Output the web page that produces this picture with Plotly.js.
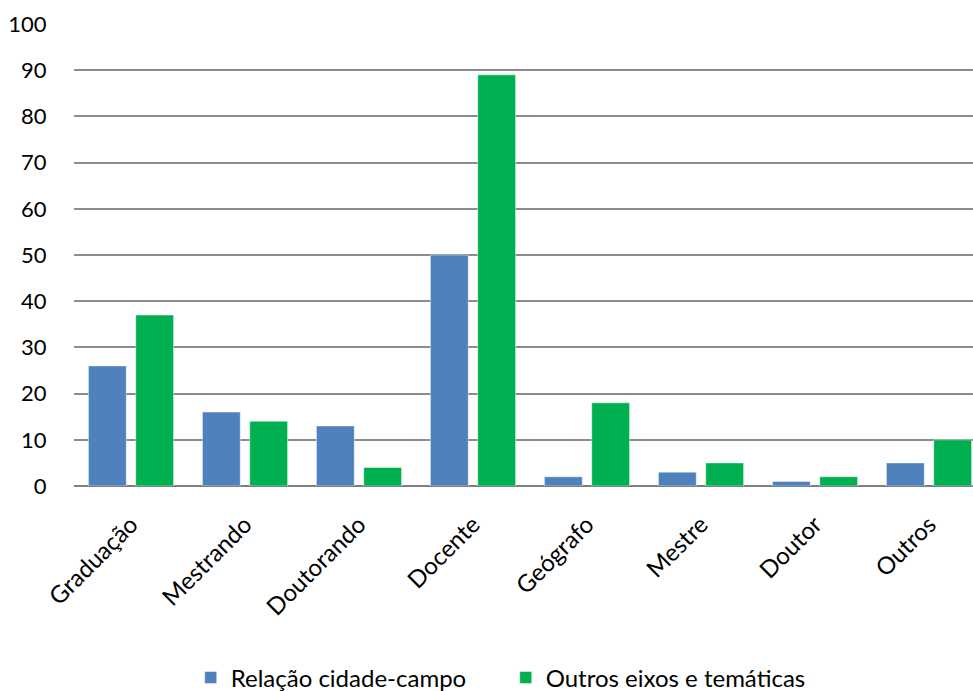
<!DOCTYPE html>
<html>
<head>
<meta charset="utf-8">
<script src="https://cdn.plot.ly/plotly-3.0.1.min.js"></script>
<style>
  html, body { margin: 0; padding: 0; background: #fff; }
  #chart { width: 973px; height: 691px; }
</style>
</head>
<body>
<div id="chart"></div>
<script>
// Participantes por categoria
const categorias = ['Graduação', 'Mestrando', 'Doutorando', 'Docente', 'Geógrafo', 'Mestre', 'Doutor', 'Outros'];
const relacaoCidadeCampo = [26, 16, 13, 50, 2, 3, 1, 5];
const outrosEixos = [37, 14, 4, 89, 18, 5, 2, 10];
const yTicks = [0, 10, 20, 30, 40, 50, 60, 70, 80, 90, 100];

const fonte = 'Lato, "Open Sans", sans-serif';

const traces = [
  {
    type: 'bar',
    name: 'Relação cidade-campo',
    x: categorias,
    y: relacaoCidadeCampo,
    marker: { color: '#4F81BD', line: { color: 'rgba(255,255,255,0.45)', width: 1 } }
  },
  {
    type: 'bar',
    name: 'Outros eixos e temáticas',
    x: categorias,
    y: outrosEixos,
    marker: { color: '#00B050', line: { color: 'rgba(255,255,255,0.45)', width: 1 } }
  }
];

const layout = {
  width: 973,
  height: 691,
  margin: { l: 74, r: 0, t: 24, b: 205 },
  paper_bgcolor: '#fff',
  plot_bgcolor: '#fff',
  font: { family: fonte, size: 24, color: '#000' },
  barmode: 'group',
  bargap: 0.17,
  bargroupgap: 0.2,
  showlegend: true,
  legend: {
    orientation: 'h',
    xref: 'container', x: 0.196, xanchor: 'left',
    yref: 'container', y: 0.019, yanchor: 'middle',
    font: { family: fonte, size: 24, color: '#000' },
    itemwidth: 30,
    entrywidth: 270,
    entrywidthmode: 'pixels',
    tracegroupgap: 0
  },
  xaxis: {
    type: 'category',
    range: [-0.5, 7.386],
    tickangle: -45,
    tickfont: { family: fonte, size: 24, color: '#000' },
    showgrid: false,
    showline: false,
    ticks: 'outside',
    ticklen: 14,
    tickcolor: 'rgba(0,0,0,0)',
    automargin: false
  },
  yaxis: {
    range: [0, 100],
    tickvals: yTicks,
    ticktext: yTicks.map(String),
    tickfont: { family: fonte, size: 22, color: '#000' },
    showgrid: true,
    gridcolor: '#8C8C8C',
    gridwidth: 2,
    zeroline: true,
    zerolinecolor: '#7F7F7F',
    zerolinewidth: 2,
    showline: false,
    ticks: 'outside',
    ticklen: 22,
    tickcolor: 'rgba(0,0,0,0)',
    automargin: false
  }
};

Plotly.newPlot('chart', traces, layout, { displayModeBar: false, staticPlot: true });
</script>
</body>
</html>
